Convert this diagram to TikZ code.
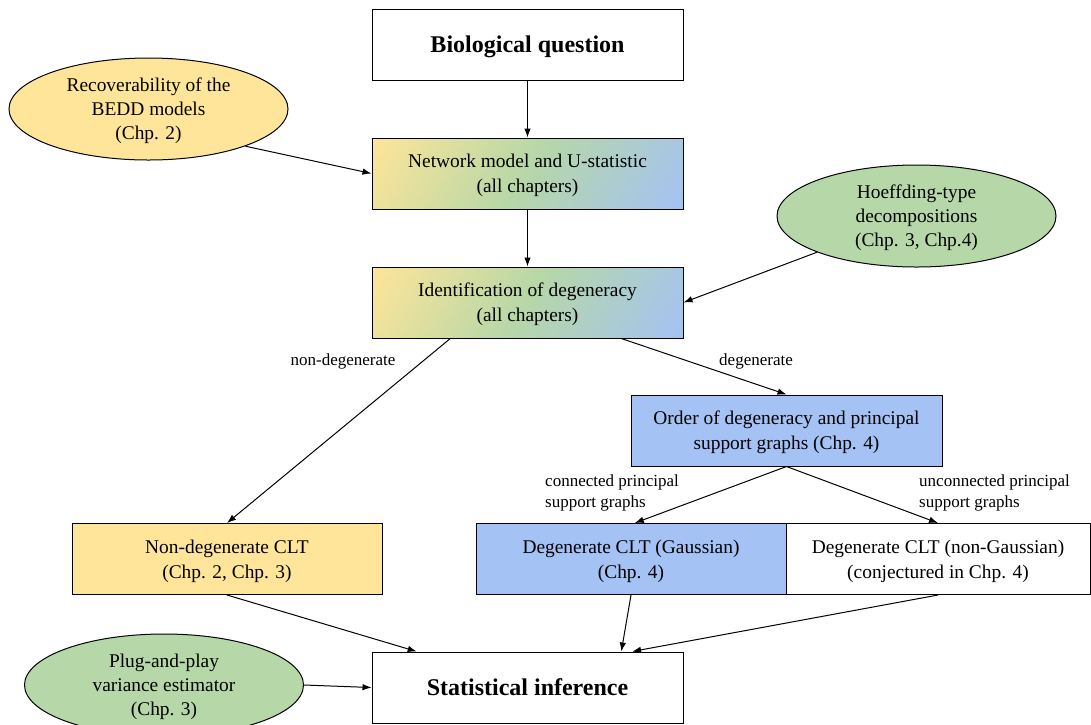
\documentclass[tikz,border=0pt]{standalone}
\usepackage{fontspec}
\setmainfont{Liberation Serif}
\usetikzlibrary{shapes.geometric,arrows.meta}
\definecolor{cyellow}{HTML}{FFE599}
\definecolor{cgreen}{HTML}{B6D7A8}
\definecolor{cblue}{HTML}{A4C2F4}
\pgfdeclarehorizontalshading{ygbgrad}{400bp}{color(0bp)=(cyellow); color(10bp)=(cyellow); color(162bp)=(cgreen); color(314bp)=(cblue); color(324bp)=(cblue)}
\begin{document}
\begin{tikzpicture}[x=1pt,y=-1pt,
 box/.style={draw=black, line width=1pt, rectangle, minimum width=311pt, minimum height=71pt, inner sep=0pt, align=center, text depth=-5pt, font=\fontsize{19.4}{25}\selectfont},
 oval/.style={draw=black, line width=1pt, ellipse, minimum width=279pt, minimum height=102pt, inner sep=0pt, align=center, text depth=-5pt, font=\fontsize{19.4}{24}\selectfont},
 lbl/.style={inner sep=0pt, align=left, font=\fontsize{17}{20.5}\selectfont},
 arr/.style={draw=black, line width=1pt, -{Latex[length=9pt,width=6.5pt]}},
 grad/.style={path picture={\pgftransformshift{\pgfpointanchor{path picture bounding box}{center}}\pgftransformrotate{-30}\pgflowlevelsynccm\pgftext{\pgfuseshading{ygbgrad}}}},
 bold/.style={font=\fontsize{24}{29}\selectfont\bfseries, text depth=-2pt}]
\clip (0,0) rectangle (1091,724);
\fill[white] (0,0) rectangle (1091,724);

\node[box, bold, fill=white] (bio) at (527.5,44.5) {Biological question};
\node[oval, fill=cyellow] (rec) at (148.5,109) {Recoverability of the\\BEDD models\\(Chp. 2)};
\node[box, grad] (net) at (527.5,173.5) {Network model and U-statistic\\(all chapters)};
\node[box, grad] (ident) at (527.5,302.5) {Identification of degeneracy\\(all chapters)};
\node[oval, fill=cgreen] (hoef) at (916.5,216) {Hoeffding-type\\decompositions\\(Chp. 3, Chp.4)};
\node[box, fill=cblue] (order) at (786.5,430.5) {Order of degeneracy and principal\\support graphs (Chp. 4)};
\node[box, fill=cyellow, minimum width=310pt] (nondeg) at (227,559) {Non-degenerate CLT\\(Chp. 2, Chp. 3)};
\node[box, fill=white, minimum width=304pt] (nongauss) at (938,559) {Degenerate CLT (non-Gaussian)\\(conjectured in Chp. 4)};
\node[box, fill=cblue, minimum width=310pt] (gauss) at (631,559) {Degenerate CLT (Gaussian)\\(Chp. 4)};
\node[box, bold, fill=white] (stat) at (527.5,687.5) {Statistical inference};
\node[oval, fill=cgreen] (plug) at (164,685) {Plug-and-play\\variance estimator\\(Chp. 3)};

\node[lbl] (lnd) at (343,361) {non-degenerate};
\node[lbl] (ld) at (756,361) {degenerate};
\node[lbl, anchor=west] (lc) at (545,493) {connected principal\\support graphs};
\node[lbl, anchor=west] (lu) at (919,493) {unconnected principal\\support graphs};

\draw[arr] (bio.south) -- (net.north);
\draw[arr] (rec.-21) -- (net.west);
\draw[arr] (net.south) -- (ident.north);
\draw[arr] (hoef.200) -- (ident.east);
\draw[arr] (ident.205) -- (nondeg.north);
\draw[arr] (ident.-21) -- (order.north);
\draw[arr] (order.south) -- (gauss.84);
\draw[arr] (order.south) -- (nongauss.north);
\draw[arr] (nondeg.south) -- (stat.162.5);
\draw[arr] (gauss.south) -- (stat.21.4);
\draw[arr] (nongauss.south) -- (stat.19.6);
\draw[arr] (plug.east) -- (stat.west);
\end{tikzpicture}
\end{document}
